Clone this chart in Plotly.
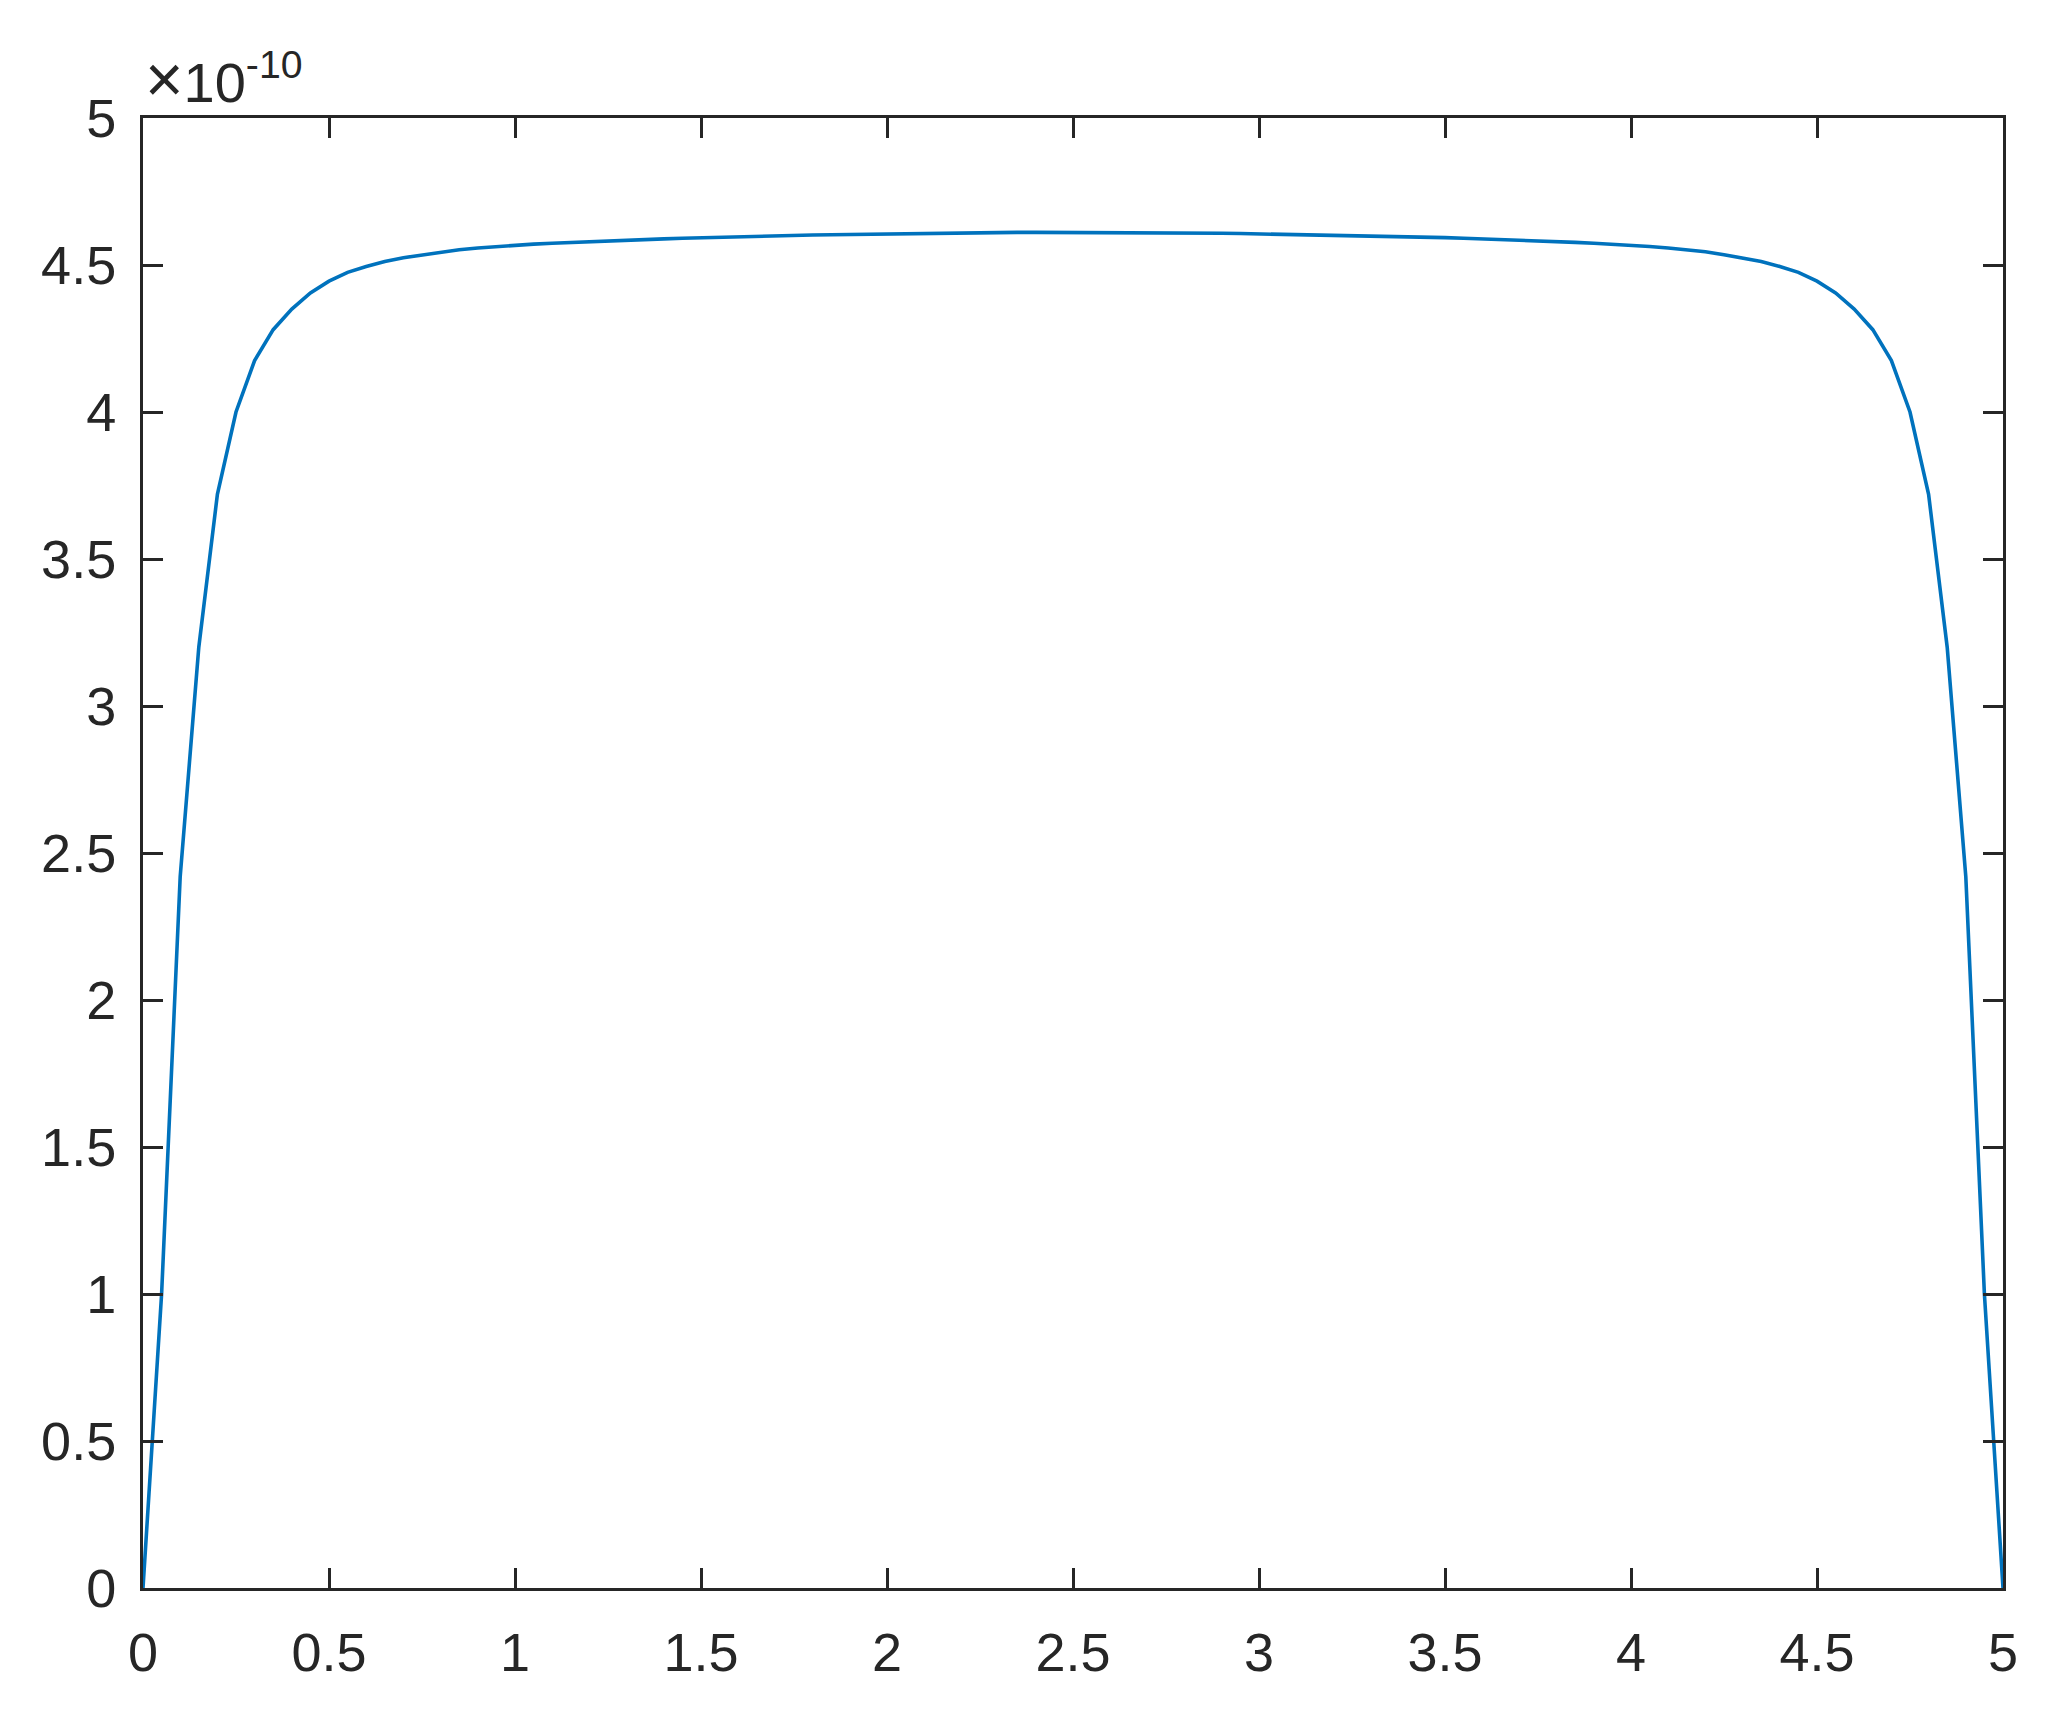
import plotly.graph_objects as go

# x positions (step 0.05 from 0 to 5)
x_vals = [round(i * 0.05, 2) for i in range(101)]

# y values in units of 1e-10
y_vals_e10 = [
    0.000, 1.000, 2.420, 3.200, 3.720, 4.000, 4.175, 4.280, 4.350, 4.405,
    4.445, 4.475, 4.495, 4.512, 4.525, 4.535, 4.545, 4.552, 4.558, 4.563,
    4.567, 4.571, 4.574, 4.577, 4.580, 4.583, 4.585, 4.587, 4.589, 4.591,
    4.593, 4.595, 4.596, 4.598, 4.599, 4.601, 4.602, 4.603, 4.604, 4.605,
    4.606, 4.607, 4.608, 4.608, 4.609, 4.610, 4.610, 4.611, 4.611, 4.611,
    4.611,
    4.611, 4.611, 4.611, 4.610, 4.610, 4.609, 4.608, 4.608, 4.607, 4.606,
    4.605, 4.604, 4.603, 4.602, 4.601, 4.599, 4.598, 4.596, 4.595, 4.593,
    4.591, 4.589, 4.587, 4.585, 4.583, 4.580, 4.577, 4.574, 4.571, 4.567,
    4.563, 4.558, 4.552, 4.545, 4.535, 4.525, 4.512, 4.495, 4.475, 4.445,
    4.405, 4.350, 4.280, 4.175, 4.000, 3.720, 3.200, 2.420, 1.000, 0.000,
]

x_ticks = [0, 0.5, 1, 1.5, 2, 2.5, 3, 3.5, 4, 4.5, 5]
x_tick_text = ["0", "0.5", "1", "1.5", "2", "2.5", "3", "3.5", "4", "4.5", "5"]
y_ticks_e10 = [0, 0.5, 1, 1.5, 2, 2.5, 3, 3.5, 4, 4.5, 5]
y_tick_text = ["0", "0.5", "1", "1.5", "2", "2.5", "3", "3.5", "4", "4.5", "5"]

SCALE = 1e-10
y_vals = [v * SCALE for v in y_vals_e10]
y_ticks = [v * SCALE for v in y_ticks_e10]

AX = "#262626"
FONT = "Liberation Sans, Arial, Helvetica, sans-serif"

fig = go.Figure()
fig.add_trace(go.Scatter(
    x=x_vals, y=y_vals, mode="lines",
    line=dict(color="#0072BD", width=3.6, shape="linear"),
    showlegend=False, hoverinfo="skip",
))

axis_common = dict(
    showline=True, linecolor=AX, linewidth=3, mirror="ticks",
    ticks="inside", ticklen=20, tickwidth=3, tickcolor=AX,
    showgrid=False, zeroline=False,
    tickfont=dict(family=FONT, size=54, color=AX),
)

fig.update_xaxes(range=[0, 5], tickvals=x_ticks, ticktext=x_tick_text,
                 ticklabelstandoff=15, **axis_common)
fig.update_yaxes(range=[0, 5 * SCALE], tickvals=y_ticks, ticktext=y_tick_text,
                 ticklabelstandoff=13, **axis_common)

fig.add_annotation(
    xref="paper", yref="paper", x=0.0, y=1.0, xanchor="left", yanchor="bottom",
    text="<span style='font-size:66px'>×</span>10<sup>-10</sup>", showarrow=False,
    font=dict(family=FONT, size=56, color=AX),
)

# page body has an 8px margin, so the figure is reduced by 16px and margins shifted
fig.update_layout(
    width=2036, height=1701,
    margin=dict(l=135, r=41, t=110, b=121, pad=0),
    plot_bgcolor="white", paper_bgcolor="white",
)

fig.write_html("out.html")
